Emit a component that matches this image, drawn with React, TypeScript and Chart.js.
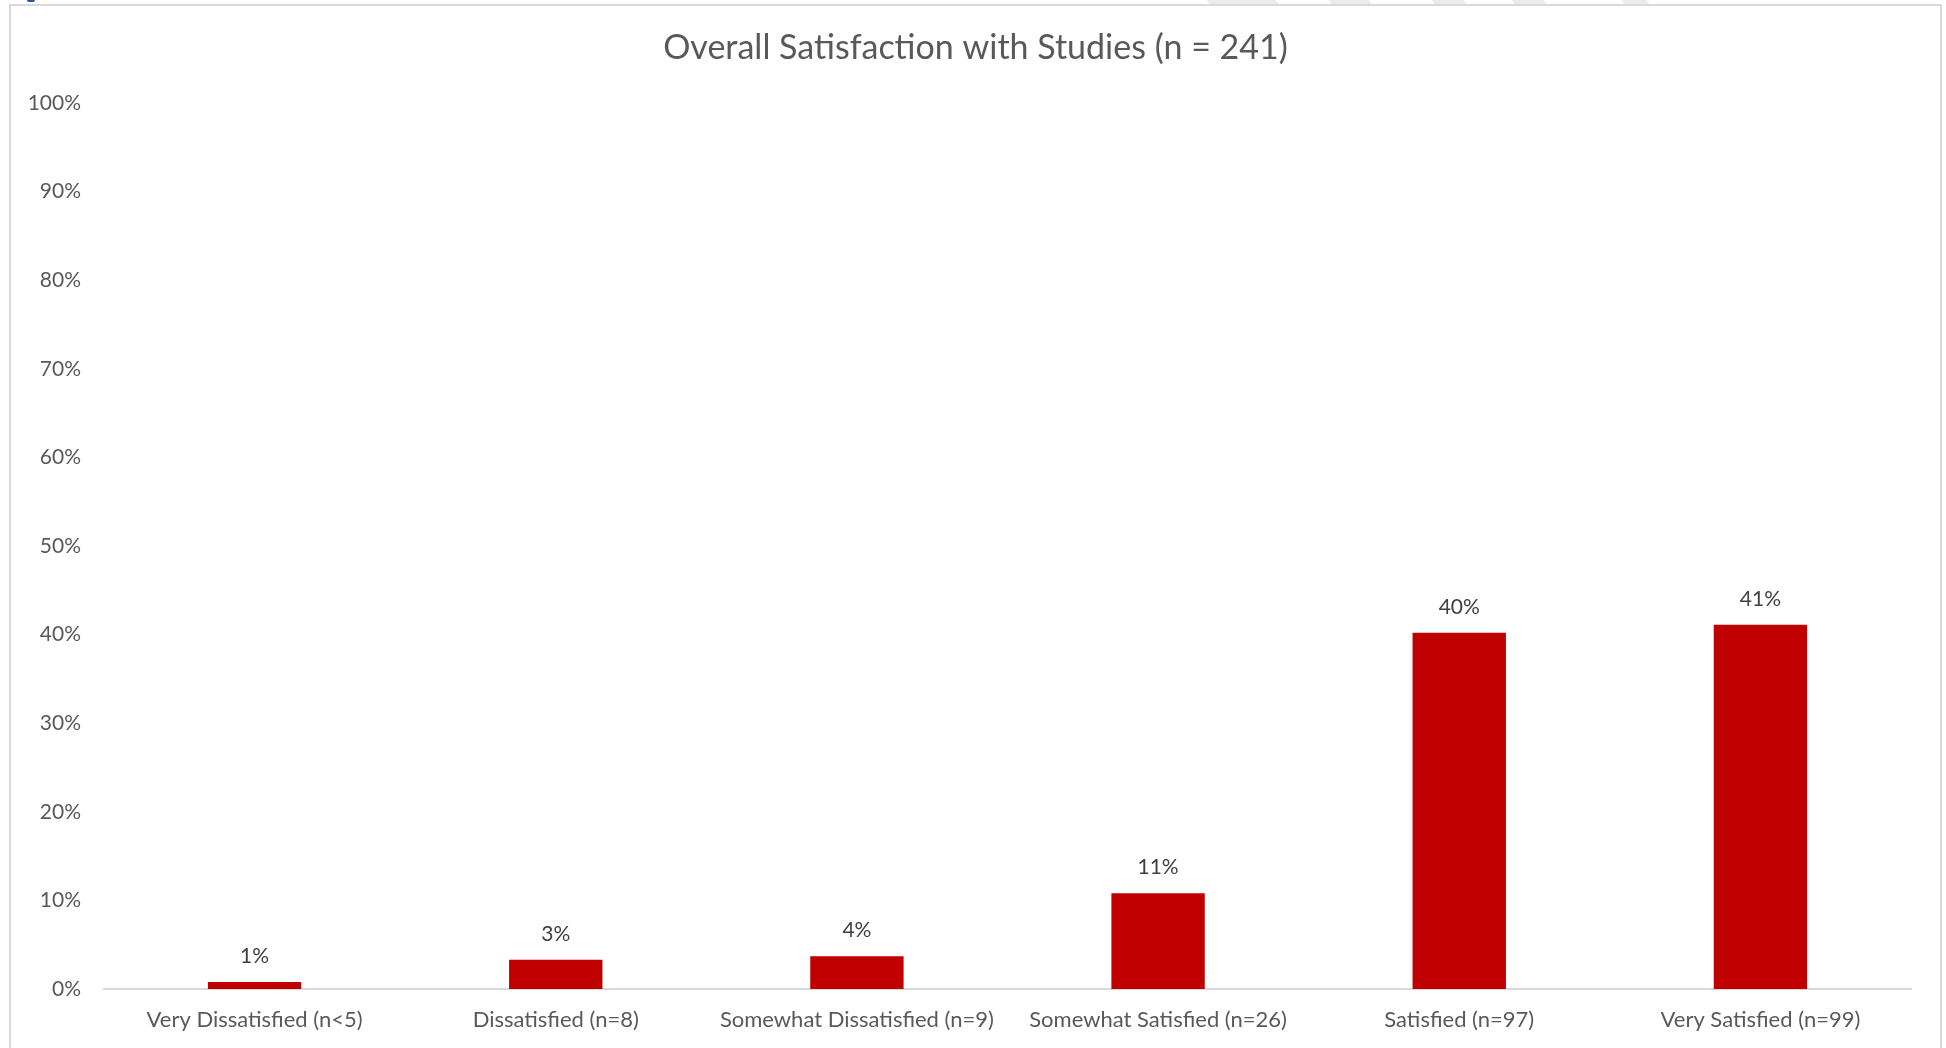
import React, { useEffect, useRef } from "react";
import { Chart, registerables } from "chart.js";

Chart.register(...registerables);

// Survey responses by satisfaction level
const categories: string[] = [
  "Very Dissatisfied (n<5)",
  "Dissatisfied (n=8)",
  "Somewhat Dissatisfied (n=9)",
  "Somewhat Satisfied (n=26)",
  "Satisfied (n=97)",
  "Very Satisfied (n=99)",
];
// Share of respondents, percent
const shares: number[] = [0.8, 3.3, 3.7, 10.8, 40.2, 41.1];
const yTicks: number[] = [0, 10, 20, 30, 40, 50, 60, 70, 80, 90, 100];

const TITLE = "Overall Satisfaction with Studies (n = 241)";
const FONT = "Lato, 'Open Sans', sans-serif";
const BAR_RED = "#C00000";
const TEXT_GREY = "#595959";
const LABEL_GREY = "#404040";
const LINE_GREY = "#D9D9D9";

// Value labels above each bar
const valueLabels = {
  id: "valueLabels",
  afterDatasetsDraw(chart: any) {
    const ctx = chart.ctx;
    const meta = chart.getDatasetMeta(0);
    ctx.save();
    ctx.font = `21px ${FONT}`;
    ctx.fillStyle = LABEL_GREY;
    ctx.textAlign = "center";
    ctx.textBaseline = "middle";
    meta.data.forEach((bar: any, i: number) => {
      const v = chart.data.datasets[0].data[i] as number;
      ctx.fillText(`${Math.round(v)}%`, bar.x, bar.y - 26);
    });
    ctx.restore();
  },
};

// Title drawn at a fixed height over the plot
const titlePlugin = {
  id: "fixedTitle",
  afterDraw(chart: any) {
    const ctx = chart.ctx;
    ctx.save();
    ctx.font = `34px ${FONT}`;
    ctx.fillStyle = TEXT_GREY;
    ctx.textAlign = "center";
    ctx.textBaseline = "middle";
    ctx.fillText(TITLE, chart.width / 2, 42);
    ctx.restore();
  },
};

function SatisfactionChart() {
  const canvasRef = useRef<HTMLCanvasElement | null>(null);

  useEffect(() => {
    if (!canvasRef.current) return;
    const chart = new Chart(canvasRef.current, {
      type: "bar",
      data: {
        labels: categories,
        datasets: [
          {
            data: shares,
            backgroundColor: BAR_RED,
            borderWidth: 0,
            barPercentage: 0.31,
            categoryPercentage: 1,
          },
        ],
      },
      options: {
        responsive: false,
        animation: false,
        layout: { padding: { left: 0, right: 29, top: 97, bottom: 0 } },
        plugins: {
          legend: { display: false },
          tooltip: { enabled: false },
          title: { display: false },
        },
        scales: {
          x: {
            grid: { display: false, drawTicks: false },
            border: { display: true, color: LINE_GREY, width: 2 },
            ticks: {
              color: TEXT_GREY,
              font: { family: FONT, size: 22 },
              padding: 18,
              maxRotation: 0,
              autoSkip: false,
            },
            afterFit(scale: any) {
              scale.height = 59;
            },
          },
          y: {
            min: 0,
            max: 100,
            afterBuildTicks(scale: any) {
              scale.ticks = yTicks.map((v) => ({ value: v }));
            },
            grid: { display: false, drawTicks: false },
            border: { display: false },
            ticks: {
              color: TEXT_GREY,
              font: { family: FONT, size: 21 },
              padding: 23,
              callback: (v: any) => `${v}%`,
            },
            afterFit(scale: any) {
              scale.width = 93;
            },
          },
        },
      },
      plugins: [valueLabels, titlePlugin],
    });
    return () => chart.destroy();
  }, []);

  return (
    <canvas
      ref={canvasRef}
      width={1929}
      height={1042}
      style={{ position: "absolute", left: 11, top: 6, width: 1929, height: 1042 }}
    />
  );
}

// Faint stripes peeking above the frame
const stripes: [number, number][] = [
  [1208, 69],
  [1330, 40],
  [1433, 32],
  [1513, 32],
  [1623, 25],
];

export default function App() {
  useEffect(() => {
    document.body.style.margin = "0";
  }, []);
  return (
    <div
      style={{
        position: "fixed",
        left: 0,
        top: 0,
        width: 1946,
        height: 1048,
        background: "#ffffff",
        overflow: "hidden",
      }}
    >
      {stripes.map(([x, w], i) => (
        <div
          key={i}
          style={{
            position: "absolute",
            left: x,
            top: 0,
            width: w,
            height: 4,
            background: "#EBEBEB",
            transform: "skewX(30deg)",
          }}
        />
      ))}
      <div
        style={{
          position: "absolute",
          left: 27,
          top: 0,
          width: 8,
          height: 2,
          borderRadius: "0 0 4px 4px",
          background: "#2F5597",
        }}
      />
      <div
        style={{
          position: "absolute",
          left: 9,
          top: 4,
          width: 1933,
          height: 1100,
          border: `2px solid ${LINE_GREY}`,
          boxSizing: "border-box",
        }}
      />
      <SatisfactionChart />
    </div>
  );
}
